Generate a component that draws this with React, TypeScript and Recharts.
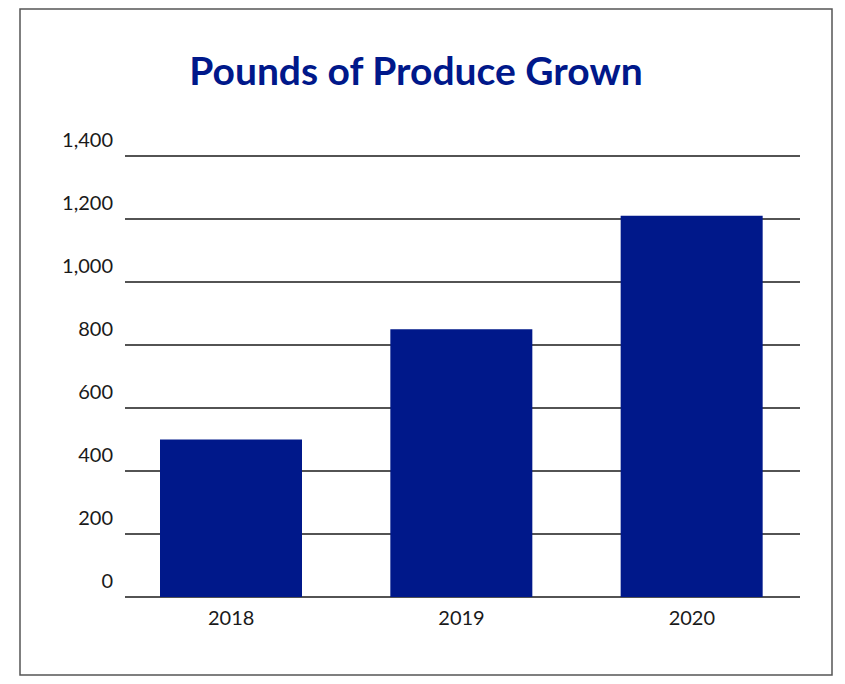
import { BarChart, Bar, XAxis, YAxis, CartesianGrid } from "recharts";

const years = ['2018', '2019', '2020'];
const pounds = [500, 850, 1210];
const yTicks = [0, 200, 400, 600, 800, 1000, 1200, 1400];

const data = years.map((year, i) => ({ year, pounds: pounds[i] }));

const BLUE = '#00188a';
const FONT = 'Lato, "Open Sans", sans-serif';

const fmt = (v: number) => String(v).replace(/\B(?=(\d{3})+(?!\d))/g, ',');

function YTick({ x, y, payload }: any) {
  return (
    <text x={x} y={y - 9} textAnchor="end" fontFamily={FONT} fontSize={20} fill="#1a1a1a">
      {fmt(payload.value)}
    </text>
  );
}

function XTick({ x, y, payload }: any) {
  return (
    <text x={x} y={y + 28} textAnchor="middle" fontFamily={FONT} fontSize={20} fill="#1a1a1a">
      {payload.value}
    </text>
  );
}

export default function App() {
  return (
    <div style={{ position: 'absolute', left: 0, top: 0, width: 845, height: 684, background: '#fff' }}>
      <svg width={845} height={684} style={{ position: 'absolute', left: 0, top: 0 }}>
        <rect x={20} y={9} width={812} height={666} fill="none" stroke="#555" strokeWidth={1.5} />
        <text x={416} y={85} textAnchor="middle" fontFamily={FONT} fontWeight={700} fontSize={39} fill={BLUE}>
          Pounds of Produce Grown
        </text>
      </svg>
      <div style={{ position: 'absolute', left: 0, top: 0 }}>
        <BarChart
          width={845}
          height={684}
          data={data}
          margin={{ top: 156, right: 38, bottom: 57, left: 16 }}
        >
          <CartesianGrid vertical={false} stroke="#1a1a1a" strokeWidth={1.5} x={125} width={675} />
          <XAxis
            dataKey="year"
            axisLine={false}
            tickLine={false}
            tickSize={0}
            tickMargin={0}
            height={30}
            tick={<XTick />}
          />
          <YAxis
            domain={[0, 1400]}
            ticks={yTicks}
            interval={0}
            axisLine={false}
            tickLine={false}
            tickSize={0}
            tickMargin={3}
            width={100}
            tick={<YTick />}
          />
          <Bar dataKey="pounds" fill={BLUE} barSize={142} isAnimationActive={false} />
        </BarChart>
      </div>
    </div>
  );
}
